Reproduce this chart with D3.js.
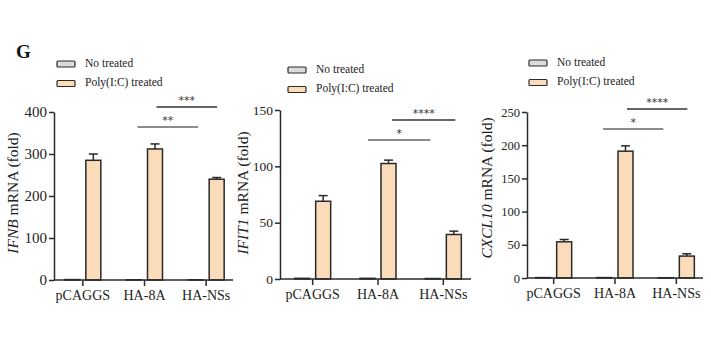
<!DOCTYPE html>
<html><head><meta charset="utf-8">
<script src="https://cdn.jsdelivr.net/npm/d3@7"></script>
<style>body{margin:0;background:#fff}svg{display:block}</style>
</head><body>
<script>
const categories = ["pCAGGS", "HA-8A", "HA-NSs"];
const seriesNames = ["No treated", "Poly(I:C) treated"];

const ifnbNo = [1, 0.5, 0.5];
const ifnbPoly = [285, 312, 240];
const ifnbErr = [15, 12, 4];
const ifnbTicks = [0, 100, 200, 300, 400];

const ifit1No = [0.6, 0.6, 0.4];
const ifit1Poly = [69, 102.5, 39.5];
const ifit1Err = [5, 3, 3];
const ifit1Ticks = [0, 50, 100, 150];

const cxcl10No = [0.6, 0.6, 0.4];
const cxcl10Poly = [54.5, 191, 33];
const cxcl10Err = [3.5, 8, 3.5];
const cxcl10Ticks = [0, 50, 100, 150, 200, 250];

const ifnbSig = [{from: "HA-8A", to: "HA-NSs", label: "**"}, {from: "HA-8A", to: "HA-NSs", label: "***"}];
const ifit1Sig = [{from: "HA-8A", to: "HA-NSs", label: "*"}, {from: "HA-8A", to: "HA-NSs", label: "****"}];
const cxcl10Sig = [{from: "HA-8A", to: "HA-NSs", label: "*"}, {from: "HA-8A", to: "HA-NSs", label: "****"}];

const W = 711, H = 355;
const svg = d3.select("body").append("svg").attr("width", W).attr("height", H);
const serif = "'Liberation Serif','Times New Roman',serif";
const fills = ["#dcdcdc", "#fbdcba"];
const stroke = "#2a2a2a";

svg.append("text").attr("x", 16).attr("y", 58).attr("font-family", serif)
  .attr("font-weight", "bold").attr("font-size", 19).attr("fill", "#111").text("G");

const panels = [
  {name: "IFNB", no: ifnbNo, poly: ifnbPoly, err: ifnbErr, ticks: ifnbTicks, sig: ifnbSig,
   ax: 54, axEnd: 233, y0: 280, yTop: 112, x0: 52, x1: 237, tickFs: 15,
   labelX: 14, labelY: 193, legX: 57, legY: 64, lineY: [127, 107], lineOff: [[-7, -8], [12, 11]]},
  {name: "IFIT1", no: ifit1No, poly: ifit1Poly, err: ifit1Err, ticks: ifit1Ticks, sig: ifit1Sig,
   ax: 280, axEnd: 471, y0: 279, yTop: 110, x0: 280, x1: 476, tickFs: 13.5,
   labelX: 244, labelY: 193, legX: 288, legY: 70, lineY: [140, 120], lineOff: [[-10, -13], [14, 12]]},
  {name: "CXCL10", no: cxcl10No, poly: cxcl10Poly, err: cxcl10Err, ticks: cxcl10Ticks, sig: cxcl10Sig,
   ax: 527, axEnd: 703, y0: 278, yTop: 112, x0: 523, x1: 707, tickFs: 12.5,
   labelX: 488, labelY: 188, legX: 529, legY: 63, lineY: [129, 109], lineOff: [[-12, -13], [12, 11]]}
];

panels.forEach(p => {
  const g = svg.append("g");
  const yMax = p.ticks[p.ticks.length - 1];
  const y = d3.scaleLinear().domain([0, yMax]).range([p.y0, p.yTop]);
  const x = d3.scaleBand().domain(categories).range([p.x0, p.x1]);
  const cxOf = c => x(c) + x.bandwidth() / 2;
  const bw = 15, gap = 3;

  // bars
  categories.forEach((c, i) => {
    const cx = cxOf(c);
    [p.no[i], p.poly[i]].forEach((v, s) => {
      const bx = s === 0 ? cx - gap - bw : cx + gap;
      g.append("rect").attr("x", bx).attr("y", y(v)).attr("width", bw)
        .attr("height", Math.max(0, y(0) - y(v)))
        .attr("fill", fills[s]).attr("stroke", stroke).attr("stroke-width", 1.5);
      if (s === 1) {
        const ex = bx + bw / 2;
        g.append("line").attr("x1", ex).attr("x2", ex).attr("y1", y(v)).attr("y2", y(v + p.err[i]))
          .attr("stroke", stroke).attr("stroke-width", 1.5);
        g.append("line").attr("x1", ex - 4.5).attr("x2", ex + 4.5)
          .attr("y1", y(v + p.err[i])).attr("y2", y(v + p.err[i]))
          .attr("stroke", stroke).attr("stroke-width", 1.5);
      }
    });
  });

  // y axis
  const ya = g.append("g").attr("transform", `translate(${p.ax},0)`)
    .call(d3.axisLeft(y).tickValues(p.ticks).tickSize(5).tickPadding(2).tickSizeOuter(0));
  ya.select(".domain").attr("stroke", stroke).attr("stroke-width", 1.5);
  ya.selectAll(".tick line").attr("stroke", stroke).attr("stroke-width", 1.5);
  ya.selectAll("text").attr("font-family", serif).attr("font-size", p.tickFs).attr("fill", "#222");

  // x axis
  const xa = g.append("g").attr("transform", `translate(0,${p.y0})`)
    .call(d3.axisBottom(x).tickSize(6).tickPadding(4).tickSizeOuter(0));
  xa.select(".domain").remove();
  g.append("line").attr("x1", p.ax).attr("x2", p.axEnd).attr("y1", p.y0).attr("y2", p.y0)
    .attr("stroke", stroke).attr("stroke-width", 1.5);
  xa.selectAll(".tick line").attr("stroke", stroke).attr("stroke-width", 1.5);
  xa.selectAll("text").attr("font-family", serif).attr("font-size", 14).attr("fill", "#222");

  // y label
  const lab = g.append("text").attr("transform", `translate(${p.labelX},${p.labelY}) rotate(-90)`)
    .attr("text-anchor", "middle").attr("dominant-baseline", "middle")
    .attr("font-family", serif).attr("font-size", 15.5).attr("fill", "#222");
  lab.append("tspan").attr("font-style", "italic").text(p.name);
  lab.append("tspan").text(" mRNA (fold)");

  // legend
  seriesNames.forEach((n, s) => {
    const ly = p.legY + s * 19.5;
    g.append("rect").attr("x", p.legX).attr("y", ly - 3).attr("width", 18).attr("height", 6)
      .attr("rx", 1).attr("fill", fills[s]).attr("stroke", stroke).attr("stroke-width", 1.2);
    g.append("text").attr("x", p.legX + 28).attr("y", ly).attr("dominant-baseline", "middle")
      .attr("font-family", serif).attr("font-size", 11.5).attr("fill", "#222").text(n);
  });

  // significance
  p.sig.forEach((sg, k) => {
    const xs = cxOf(sg.from) + p.lineOff[k][0];
    const xe = cxOf(sg.to) + p.lineOff[k][1];
    const ly = p.lineY[k];
    g.append("line").attr("x1", xs).attr("x2", xe).attr("y1", ly).attr("y2", ly)
      .attr("stroke", k === 0 ? "#666" : "#333").attr("stroke-width", 1.3);
    g.append("text").attr("x", (xs + xe) / 2).attr("y", ly - 3)
      .attr("text-anchor", "middle").attr("font-family", "'DejaVu Sans',sans-serif")
      .attr("font-size", 11).attr("fill", "#333").text(sg.label);
  });
});
</script>
</body></html>
